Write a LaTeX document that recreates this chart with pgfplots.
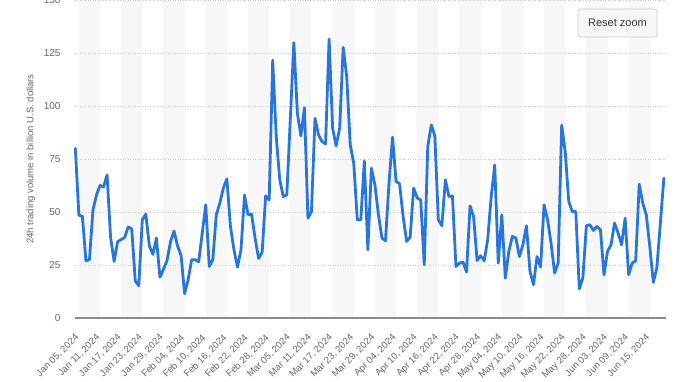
\documentclass[border=0pt]{standalone}
\usepackage{pgfplots}
\pgfplotsset{compat=1.18}
\usepackage{pgfplotstable}
\usepackage{fontspec}
\setmainfont{Liberation Sans}
\definecolor{linecol}{HTML}{2876DD}
\definecolor{bandgray}{HTML}{F7F7F7}
\definecolor{txtgray}{HTML}{666666}
\definecolor{gridgray}{HTML}{CCCCCC}
\definecolor{axgray}{HTML}{8C8C8C}
\pgfplotstableread{
d v
4 80
5 48.5
6 48
7 27
8 27.5
9 51
10 58
11 62.5
12 61.8
13 67.5
14 38
15 26.7
16 36
17 37
18 38
19 43
20 42
21 17.5
22 15.2
23 46.3
24 49
25 34
26 30
27 37.7
28 19.2
29 23
30 27
31 36
32 41
33 34
34 29.5
35 11.5
36 18
37 27.5
38 27.5
39 26.5
40 40
41 53.4
42 24.3
43 27.5
44 48.7
45 54.2
46 61.3
47 65.6
48 43.2
49 32.2
50 24
51 32.2
52 58
53 48.7
54 49
55 37.7
56 28.1
57 31
58 57.6
59 55.7
60 121.7
61 85.6
62 65.2
63 57.3
64 58.1
65 94
66 129.9
67 96.6
68 85.9
69 99.2
70 47.1
71 50.2
72 94.2
73 86.4
74 83.2
75 82.1
76 131.5
77 89.5
78 81.2
79 89.5
80 127.7
81 113.9
82 81.7
83 73
84 46.3
85 46.3
86 74.1
87 32.2
88 70.7
89 62.8
90 48.7
91 37.7
92 36.4
93 63.6
94 85.3
95 64.4
96 63.3
97 47.9
98 36.1
99 38.2
100 61.3
101 56.6
102 55.7
103 25.1
104 80.9
105 91.1
106 86
107 46.3
108 43.5
109 65.2
110 57.3
111 57.6
112 24.3
113 25.9
114 26.4
115 21.7
116 52.9
117 47.9
118 27.1
119 29.4
120 27
121 36.9
122 57.3
123 72.2
124 25.9
125 48.7
126 18.8
127 31.4
128 38.5
129 37.7
130 29
131 34.5
132 43.5
133 22
134 15.7
135 29
136 24
137 53.4
138 46.3
139 35
140 21.2
141 25.9
142 91
143 78.5
144 55
145 50.2
146 50.2
147 13.7
148 18.8
149 43.5
150 44
151 41.3
152 43.2
153 41.6
154 20.4
155 31.4
156 34.5
157 44.8
158 40.1
159 34.5
160 47.1
161 20.4
162 25.9
163 27
164 63.1
165 54.2
166 48.7
167 33.7
168 16.8
169 23.6
170 44.8
171 66
}\datatable
\begin{document}
\begin{tikzpicture}
\begin{axis}[
  set layers,
  scale only axis,
  width=591pt, height=318pt,
  at={(0,0)}, anchor=south west,
  xmin=3.9, xmax=171.6,
  ymin=0, ymax=150,
  ytick={0,25,50,75,100,125,150},
  xtick={5,11,17,23,29,35,41,47,53,59,65,71,77,83,89,95,101,107,113,119,125,131,137,143,149,155,161,167},
  xticklabels={{Jan 05, 2024},{Jan 11, 2024},{Jan 17, 2024},{Jan 23, 2024},{Jan 29, 2024},{Feb 04, 2024},{Feb 10, 2024},{Feb 16, 2024},{Feb 22, 2024},{Feb 28, 2024},{Mar 05, 2024},{Mar 11, 2024},{Mar 17, 2024},{Mar 23, 2024},{Mar 29, 2024},{Apr 04, 2024},{Apr 10, 2024},{Apr 16, 2024},{Apr 22, 2024},{Apr 28, 2024},{May 04, 2024},{May 10, 2024},{May 16, 2024},{May 22, 2024},{May 28, 2024},{Jun 03, 2024},{Jun 09, 2024},{Jun 15, 2024}},
  /pgf/number format/assume math mode=true,
  axis x line*=bottom,
  axis y line*=left,
  y axis line style={draw=none},
  x axis line style={draw=axgray, line width=2pt},
  tick style={draw=none},
  ymajorgrids,
  grid style={draw=gridgray, line width=0.7pt, dash pattern=on 1pt off 1.5pt},
  yticklabel style={font=\fontsize{10}{12}\selectfont, text=txtgray, xshift=-11pt},
  xticklabel style={font=\fontsize{9.5}{11}\selectfont, text=txtgray, xshift=-4.5pt, yshift=-10.5pt, rotate=45, anchor=north east},
  ylabel={24h trading volume in billion U.S. dollars},
  ylabel style={font=\fontsize{9.5}{11}\selectfont, text=txtgray, at={(rel axis cs:0,0.5)}, anchor=center, yshift=44pt},
  clip=false,
]
\begin{pgfonlayer}{axis background}
\fill[bandgray] (axis cs:5,0) rectangle (axis cs:11,150);
\fill[bandgray] (axis cs:17,0) rectangle (axis cs:23,150);
\fill[bandgray] (axis cs:29,0) rectangle (axis cs:35,150);
\fill[bandgray] (axis cs:41,0) rectangle (axis cs:47,150);
\fill[bandgray] (axis cs:53,0) rectangle (axis cs:59,150);
\fill[bandgray] (axis cs:65,0) rectangle (axis cs:71,150);
\fill[bandgray] (axis cs:77,0) rectangle (axis cs:83,150);
\fill[bandgray] (axis cs:89,0) rectangle (axis cs:95,150);
\fill[bandgray] (axis cs:101,0) rectangle (axis cs:107,150);
\fill[bandgray] (axis cs:113,0) rectangle (axis cs:119,150);
\fill[bandgray] (axis cs:125,0) rectangle (axis cs:131,150);
\fill[bandgray] (axis cs:137,0) rectangle (axis cs:143,150);
\fill[bandgray] (axis cs:149,0) rectangle (axis cs:155,150);
\fill[bandgray] (axis cs:161,0) rectangle (axis cs:167,150);
\end{pgfonlayer}
\addplot[draw=linecol, line width=2.8pt, line join=round, line cap=round, mark=none] table[x=d, y=v] {\datatable};
\end{axis}
\draw[draw=gridgray, fill=bandgray, rounded corners=2.5pt, line width=0.7pt] (503pt,281pt) rectangle (582pt,309pt);
\node[text=black!80, font=\fontsize{11}{13}\selectfont] at (542.5pt,295pt) {Reset zoom};
\pgfresetboundingbox
\path[use as bounding box] (-75pt,-63pt) rectangle (603pt,318pt);
\end{tikzpicture}
\end{document}
